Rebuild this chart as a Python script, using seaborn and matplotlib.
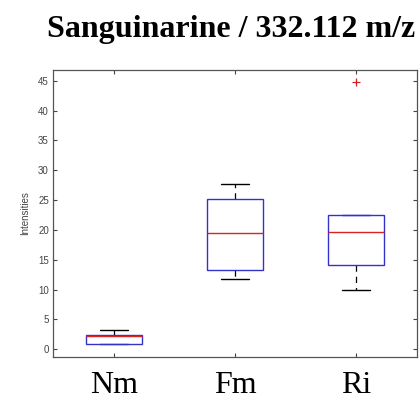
import numpy as np
import pandas as pd
import matplotlib
matplotlib.use("Agg")
import matplotlib.pyplot as plt
import seaborn as sns

# Data
categories = ["Nm", "Fm", "Ri"]
nm_values = [0.89, 0.89, 2.17, 2.34, 3.18]
fm_values = [11.76, 13.2, 19.5, 25.2, 27.7]
ri_values = [9.87, 12.0, 14.2, 17.0, 19.7, 21.0, 22.5, 22.5, 44.8]
y_ticks = [0, 5, 10, 15, 20, 25, 30, 35, 40, 45]
title_text = "Sanguinarine / 332.112 m/z"
y_label = "Intensities"

df = pd.DataFrame({
    "group": ["Nm"] * len(nm_values) + ["Fm"] * len(fm_values) + ["Ri"] * len(ri_values),
    "value": nm_values + fm_values + ri_values,
})

sns.set_style("white")
fig = plt.figure(figsize=(4.19, 4.03), dpi=100)
ax = fig.add_axes([53 / 419, (403 - 357) / 403, (417 - 53) / 419, (357 - 70) / 403])

box_col = "#3333cc"
sns.boxplot(
    data=df, x="group", y="value", order=categories, ax=ax,
    width=0.46, whis=1.5, linewidth=1.0,
    boxprops=dict(facecolor="none", edgecolor=box_col, linewidth=1.0, zorder=4),
    medianprops=dict(color="#dd2222", linewidth=1.0, zorder=5),
    whiskerprops=dict(color="black", linestyle=(0, (5, 4)), linewidth=0.9, zorder=2),
    capprops=dict(color="black", linewidth=1.0, zorder=2),
    flierprops=dict(marker="+", markeredgecolor="#cc2222", markerfacecolor="#cc2222",
                    markersize=6, linestyle="none", markeredgewidth=0.9),
)
# caps that coincide with a box edge (zero-length whiskers) take the box colour
for ln in ax.lines:
    yd = np.asarray(ln.get_ydata(), dtype=float)
    if ln.get_color() in ("black", "k") and len(yd) == 2 and yd[0] == yd[1]:
        for val in (min(nm_values), max(v for v in ri_values if v < 40)):
            if abs(yd[0] - val) < 1e-9:
                ln.set_color(box_col)

ax.set_xlim(-0.5, 2.5)
ax.set_ylim(-1.3, 46.8)
ax.set_yticks(y_ticks)
ax.set_yticklabels([str(t) for t in y_ticks], fontsize=7, color="#444444",
                   family="Liberation Sans")
ax.set_xticks(range(len(categories)))
ax.set_xticklabels(categories, fontsize=23, family="Liberation Serif", color="black")
ax.tick_params(axis="x", direction="in", length=3, pad=10, top=True, bottom=True,
               color="#444444")
ax.tick_params(axis="y", direction="in", length=3, pad=3, left=True, right=True,
               color="#444444")
ax.set_xlabel("")
ax.set_ylabel(y_label, fontsize=7, color="#444444", family="Liberation Sans", labelpad=6)
for s in ax.spines.values():
    s.set_color("#555555")
    s.set_linewidth(0.9)

fig.text(231 / 419, 1 - 37 / 403, title_text, ha="center", va="baseline",
         fontsize=23, fontweight="bold", family="Liberation Serif", color="black")

fig.savefig("out.png", dpi=100)
